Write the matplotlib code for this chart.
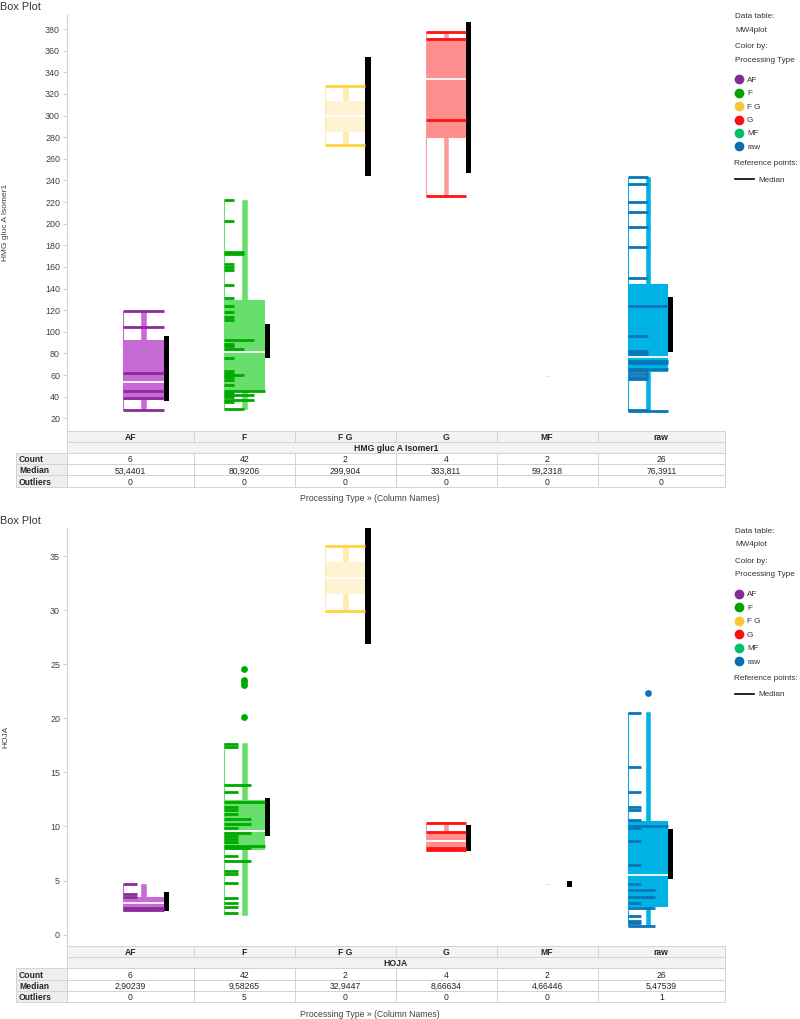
import matplotlib
matplotlib.use('Agg')
import matplotlib.pyplot as plt
from matplotlib.patches import Rectangle

plt.rcParams['font.family'] = ['Liberation Sans', 'DejaVu Sans']

W, H = 800, 1019

categories = ['AF', 'F', 'F G', 'G', 'MF', 'raw']
box_colors = ['#c86ad5', '#68df6c', '#fff3d3', '#ff8f8f', '#9ee8c4', '#00b3e6']
whisker_colors = ['#c86ad5', '#68df6c', '#ffeab0', '#ff9a9a', '#9ee8c4', '#00b3e6']
point_colors = ['#8a2b99', '#00a900', '#ffd43c', '#ff1212', '#00c070', '#0a76b6']
legend_colors = ['#7d2e98', '#00a300', '#f7c832', '#ff1010', '#00c06c', '#0b6ead']

# ---- HMG gluc A Isomer1 ----
hmg_q1 = [37, 45, 284.8, 279, 59.23, 63]
hmg_q3 = [92, 129.4, 313.7, 371.4, 59.23, 144]
hmg_lo = [27.5, 29, 272.5, 226, 59.23, 26.5]
hmg_hi = [119, 222, 327, 377, 59.23, 243.4]
hmg_ci_lo = [36, 75.5, 244, 247, 59.0, 81]
hmg_ci_hi = [96.4, 107.2, 354.4, 386.8, 59.45, 132.5]
hmg_count = [6, 42, 2, 4, 2, 26]
hmg_median = [53.4401, 80.9206, 299.904, 333.811, 59.2318, 76.3911]
hmg_outliers = [0, 0, 0, 0, 0, 0]
# individual values and how many rows share each one
hmg_vals = [
    [119, 104.7, 61.6, 45.3, 38.5, 27.5],
    [222, 202.5, 173.5, 171.5, 163, 160, 157, 143, 131.5, 124, 118.6, 113.5, 110.5,
     92.4, 89, 87, 84.5, 76, 64, 62, 60, 58.5, 55.4, 51, 45.5, 43, 41.5, 39.5, 37, 35, 29],
    [327, 272.8],
    [377, 371, 296, 226],
    [],
    [243.4, 236.7, 219.7, 211, 197.2, 178, 149.5, 123.9, 96.4, 82, 80, 78, 73, 71,
     65.3, 64, 61, 58, 56, 28, 26.5],
]
hmg_n = [
    [1, 1, 1, 1, 1, 1],
    [1, 1, 2, 2, 1, 1, 1, 1, 1, 1, 1, 1, 1,
     3, 1, 1, 2, 1, 1, 1, 2, 1, 1, 1, 4, 1, 3, 1, 3, 1, 2],
    [1, 1],
    [1, 1, 1, 1],
    [],
    [1, 1, 1, 1, 1, 1, 1, 2, 1, 1, 1, 1, 2, 2, 2, 1, 1, 1, 1, 1, 2],
]
hmg_out = [[], [], [], [], [], []]

# ---- HOJA ----
hoja_q1 = [2.15, 7.85, 31.5, 7.9, 4.66, 2.6]
hoja_q3 = [3.45, 12.45, 34.5, 9.5, 4.66, 10.5]
hoja_lo = [2.2, 1.8, 29.95, 7.75, 4.66, 0.8]
hoja_hi = [4.65, 17.7, 35.95, 10.3, 4.66, 20.6]
hoja_ci_lo = [2.2, 9.15, 26.9, 7.7, 4.4, 5.13]
hoja_ci_hi = [3.9, 12.6, 38.5, 10.1, 4.95, 9.77]
hoja_count = [6, 42, 2, 4, 2, 26]
hoja_median = [2.90239, 9.58265, 32.9447, 8.66634, 4.66446, 5.47539]
hoja_outliers = [0, 5, 0, 0, 0, 1]
hoja_vals = [
    [4.65, 3.75, 3.5, 2.5, 2.3],
    [17.6, 17.35, 13.8, 13.2, 12.3, 11.8, 11.5, 11.2, 10.7, 10.2, 9.9, 9.4, 9.1,
     8.85, 8.6, 8.2, 8.0, 7.3, 6.8, 5.9, 5.6, 4.75, 3.4, 2.9, 2.6, 2.0],
    [35.95, 29.95],
    [10.3, 9.5, 8.05, 7.8],
    [],
    [20.5, 15.5, 13.2, 11.8, 11.5, 10.6, 10.07, 9.9, 8.7, 6.4, 4.67, 4.14, 3.52,
     2.97, 2.45, 1.73, 1.3, 1.05, 0.8],
]
hoja_n = [
    [1, 1, 1, 3, 3],
    [1, 1, 2, 1, 3, 1, 1, 1, 2, 2, 1, 2, 1, 1, 1, 3, 2, 1, 2, 1, 1, 1, 1, 1, 1, 1],
    [1, 1],
    [1, 1, 1, 1],
    [],
    [1, 1, 1, 1, 1, 1, 3, 1, 1, 1, 1, 2, 2, 1, 2, 1, 1, 1, 2],
]
hoja_out = [[], [24.6, 23.5, 23.4, 23.05, 20.1], [], [], [], [22.3]]

X0, X1 = 67, 725          # plot/table left and right in px
XL = (-0.758, 5.763)      # category axis range
PX = (X1 - X0) / (XL[1] - XL[0])
RH = 11.2                 # table row height px
TXT = '#333333'

fig = plt.figure(figsize=(W / 100, H / 100), dpi=100)


def fx(px):
    return px / W


def fy(py):
    return 1 - py / H


def draw_panel(top, bottom, ylim, yticks, ylabel, q1, q3, med, lo, hi, ci_lo, ci_hi,
               vals, n, outs):
    ax = fig.add_axes([fx(X0), fy(bottom), (X1 - X0) / W, (bottom - top) / H])
    ax.set_xlim(*XL)
    ax.set_ylim(*ylim)
    hw = 0.2
    for i in range(len(categories)):
        lt, wc, dk = box_colors[i], whisker_colors[i], point_colors[i]
        ax.plot([i - hw, i - hw], [lo[i], hi[i]], color=wc, lw=0.8, solid_capstyle='butt')
        ax.add_patch(Rectangle((i - 0.022, lo[i]), 0.044, hi[i] - lo[i], fc=wc, ec=wc, lw=0.4))
        ax.add_patch(Rectangle((i - hw, q1[i]), 2 * hw, q3[i] - q1[i], fc=lt, lw=0))
        if n[i]:
            m = max(n[i])
            for v, c in zip(vals[i], n[i]):
                ax.hlines(v, i - hw, i - hw + 2 * hw * c / m, color=dk, lw=2.0)
            ax.hlines(med[i], i - hw, i + hw, color='white', lw=1.3)
        ax.add_patch(Rectangle((i + hw, ci_lo[i]), 0.05, ci_hi[i] - ci_lo[i], fc='black', lw=0))
        if outs[i]:
            ax.scatter([i] * len(outs[i]), outs[i], s=24, color=dk, zorder=5, linewidths=0)
    for s in ['top', 'right', 'bottom']:
        ax.spines[s].set_visible(False)
    ax.spines['left'].set_color('#d6d6d6')
    ax.set_xticks([])
    ax.set_yticks(yticks)
    ax.tick_params(axis='y', colors='#d0d0d0', labelcolor='#404040', labelsize=6.4,
                   length=3, width=0.8, pad=2)
    fig.text(fx(6), fy((top + bottom) / 2), ylabel, rotation=90, ha='center', va='center',
             fontsize=6, color='#404040')
    return ax


def draw_table(top, name, count, med, outl):
    tab = fig.add_axes([fx(X0), fy(top + 5 * RH), (X1 - X0) / W, 5 * RH / H])
    tab.set_xlim(*XL)
    tab.set_ylim(5, 0)
    tab.axis('off')
    edges = [XL[0]] + [i + 0.5 for i in range(len(categories) - 1)] + [XL[1]]
    lab0 = XL[0] - (X0 - 16) / PX

    def cell(x0, x1, r, fc, txt, bold=False, left=False):
        tab.add_patch(Rectangle((x0, r), x1 - x0, 1, fc=fc, ec='#d3d3d3', lw=0.7, clip_on=False))
        tx = x0 + 0.03 if left else (x0 + x1) / 2
        tab.text(tx, r + 0.5, txt, ha='left' if left else 'center', va='center_baseline',
                 fontsize=6.2, fontweight='bold' if bold else 'normal', color='#262626',
                 clip_on=False)

    for j, c in enumerate(categories):
        cell(edges[j], edges[j + 1], 0, '#f3f3f3', c, bold=True)
    cell(XL[0], XL[1], 1, '#f3f3f3', name, bold=True)
    rows = [('Count', [str(v) for v in count]),
            ('Median', [f'{v:.6g}'.replace('.', ',') for v in med]),
            ('Outliers', [str(v) for v in outl])]
    for r, (lab, txts) in enumerate(rows, start=2):
        cell(lab0, XL[0], r, '#eeeeee', lab, bold=True, left=True)
        for j, t in enumerate(txts):
            cell(edges[j], edges[j + 1], r, 'white', t)


def draw_legend(dy):
    kw = dict(fontsize=5.9, color=TXT, va='center_baseline', ha='left')
    fig.text(fx(735), fy(16 + dy), 'Data table:', **kw)
    fig.text(fx(735), fy(29.3 + dy), 'MW4plot', **kw)
    fig.text(fx(735), fy(46 + dy), 'Color by:', **kw)
    fig.text(fx(735), fy(59.3 + dy), 'Processing Type', **kw)
    for j, c in enumerate(categories):
        yy = fy(79.3 + 13.4 * j + dy)
        fig.lines.append(plt.Line2D([fx(739)], [yy], marker='o', markersize=6, color=legend_colors[j],
                                    transform=fig.transFigure, linestyle='none'))
        fig.text(fx(747), yy, c, **kw)
    fig.text(fx(734), fy(162.7 + dy), 'Reference points:', **kw)
    yy = fy(179.3 + dy)
    fig.lines.append(plt.Line2D([fx(735), fx(754)], [yy, yy], color='black', lw=1.2,
                                transform=fig.transFigure))
    fig.text(fx(758), yy, 'Median', **kw)


# top chart
fig.text(fx(0), fy(6), 'Box Plot', fontsize=7.8, color=TXT, ha='left', va='center_baseline')
draw_panel(14, 430.7, (8.5, 393.9), range(20, 381, 20), 'HMG gluc A Isomer1',
           hmg_q1, hmg_q3, hmg_median, hmg_lo, hmg_hi, hmg_ci_lo, hmg_ci_hi,
           hmg_vals, hmg_n, hmg_out)
draw_table(430.7, 'HMG gluc A Isomer1', hmg_count, hmg_median, hmg_outliers)
fig.text(fx(370), fy(497), 'Processing Type \u00bb (Column Names)', fontsize=6.2, color='#404040',
         ha='center', va='center_baseline')
draw_legend(0)

# bottom chart
fig.text(fx(0), fy(520), 'Box Plot', fontsize=7.8, color=TXT, ha='left', va='center_baseline')
draw_panel(528, 946, (-1.05, 37.6), range(0, 36, 5), 'HOJA',
           hoja_q1, hoja_q3, hoja_median, hoja_lo, hoja_hi, hoja_ci_lo, hoja_ci_hi,
           hoja_vals, hoja_n, hoja_out)
draw_table(946, 'HOJA', hoja_count, hoja_median, hoja_outliers)
fig.text(fx(370), fy(1013.3), 'Processing Type \u00bb (Column Names)', fontsize=6.2, color='#404040',
         ha='center', va='center_baseline')
draw_legend(514.7)

fig.savefig('out.png', dpi=100)
